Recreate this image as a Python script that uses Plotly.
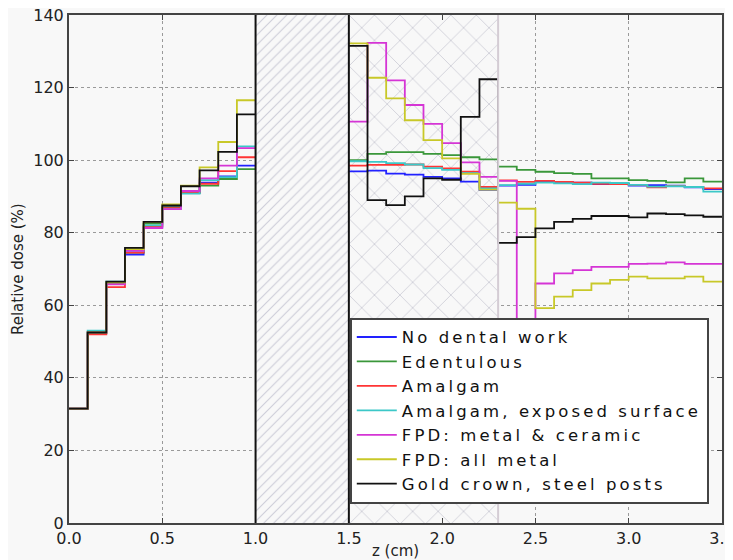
import plotly.graph_objects as go

# bin edges (cm): first block before the gap, second block after it
z_left = [0.0, 0.1, 0.2, 0.3, 0.4, 0.5, 0.6, 0.7, 0.8, 0.9, 1.0]
z_right = [1.5, 1.6, 1.7, 1.8, 1.9, 2.0, 2.1, 2.2, 2.3, 2.4, 2.5,
           2.6, 2.7, 2.8, 2.9, 3.0, 3.1, 3.2, 3.3, 3.4, 3.5]

# hatched regions (cm)
gap_region = [1.0, 1.5]
cross_region = [1.5, 2.3]

names = ["No dental work", "Edentulous", "Amalgam", "Amalgam, exposed surface",
         "FPD: metal & ceramic", "FPD: all metal", "Gold crown, steel posts"]

# relative dose per bin (%), left block
no_work_l = [31.5, 52.3, 66.0, 74.0, 81.5, 87.0, 91.0, 93.8, 95.5, 98.5]
edent_l = [31.5, 52.5, 66.0, 74.5, 82.5, 87.0, 91.0, 93.0, 94.8, 97.5]
amalgam_l = [31.5, 52.0, 65.0, 74.5, 81.8, 86.8, 91.2, 93.5, 97.0, 100.8]
amalg_exp_l = [31.5, 53.0, 66.5, 75.0, 82.0, 86.5, 90.8, 94.5, 95.3, 103.8]
fpd_mc_l = [31.5, 52.5, 65.8, 75.0, 81.3, 86.5, 91.5, 95.0, 98.5, 103.3]
fpd_metal_l = [31.5, 52.5, 66.3, 75.5, 83.0, 87.8, 93.0, 98.0, 105.0, 116.5]
gold_l = [31.5, 52.5, 66.5, 75.8, 83.0, 87.5, 92.8, 97.2, 102.3, 112.6]

# relative dose per bin (%), right block
no_work_r = [96.9, 97.1, 96.3, 96.0, 95.4, 95.0, 94.1, 91.8, 93.0, 93.2,
             94.2, 94.0, 93.8, 93.4, 93.5, 93.0, 93.1, 93.0, 92.5, 92.0]
edent_r = [100.0, 101.7, 102.2, 102.2, 101.7, 101.4, 100.8, 100.2, 98.2, 97.3,
           96.8, 96.4, 96.2, 95.0, 95.0, 94.5, 94.3, 93.9, 95.0, 94.1]
amalgam_r = [98.5, 98.7, 98.7, 98.8, 98.2, 97.7, 96.8, 92.6, 94.4, 94.0,
             94.3, 94.0, 93.8, 93.5, 93.4, 93.2, 92.5, 92.9, 92.6, 92.2]
amalg_exp_r = [99.7, 99.5, 99.2, 98.8, 97.8, 97.3, 96.4, 92.2, 93.1, 93.5,
               93.8, 93.6, 93.4, 93.8, 93.7, 93.2, 92.7, 92.8, 92.6, 91.3]
fpd_mc_r = [110.6, 132.3, 122.0, 115.2, 110.0, 104.7, 99.4, 95.4, 94.3, 30.0,
            66.0, 68.8, 69.7, 70.6, 70.6, 71.4, 71.5, 71.8, 71.4, 71.4]
fpd_metal_r = [132.2, 122.7, 117.0, 111.0, 105.5, 100.5, 96.2, 91.9, 88.3, 86.6,
               59.2, 62.4, 64.2, 66.0, 67.0, 67.9, 67.4, 67.4, 67.9, 66.5]
gold_r = [131.5, 89.0, 87.6, 90.0, 95.0, 94.6, 111.9, 122.3, 77.2, 78.8,
          81.2, 83.0, 83.8, 84.6, 84.6, 84.2, 85.3, 85.1, 84.8, 84.4]

left = [no_work_l, edent_l, amalgam_l, amalg_exp_l, fpd_mc_l, fpd_metal_l, gold_l]
right = [no_work_r, edent_r, amalgam_r, amalg_exp_r, fpd_mc_r, fpd_metal_r, gold_r]
colors = ["#2222ff", "#3a973a", "#ff3535", "#3cc8c8", "#d535d5", "#c8c828", "#111111"]

font = "DejaVu Sans"
fig = go.Figure()

# hatched backgrounds
fig.add_trace(go.Scatter(
    x=[gap_region[0], gap_region[1], gap_region[1], gap_region[0], gap_region[0]],
    y=[0, 0, 140, 140, 0], fill="toself", mode="lines", line=dict(width=0),
    fillcolor="rgba(0,0,0,0)", hoverinfo="skip", showlegend=False,
    fillpattern=dict(shape="/", size=7, solidity=0.16, fgcolor="#a2a2b8", bgcolor="#f8f8f8")))
fig.add_trace(go.Scatter(
    x=[cross_region[0], cross_region[1], cross_region[1], cross_region[0], cross_region[0]],
    y=[0, 0, 140, 140, 0], fill="toself", mode="lines", line=dict(width=0),
    fillcolor="rgba(0,0,0,0)", hoverinfo="skip", showlegend=False,
    fillpattern=dict(shape="x", size=18, solidity=0.08, fgcolor="#9494aa", bgcolor="#f8f8f8")))

for name, yl, yr, c in zip(names, left, right, colors):
    xs = z_left + [None] + z_right
    ys = yl + [yl[-1]] + [None] + yr + [yr[-1]]
    fig.add_trace(go.Scatter(x=xs, y=ys, mode="lines",
                             name='<span style="letter-spacing:3.1px">' + name + '</span>',
                             line=dict(color=c, width=1.8, shape="hv"),
                             connectgaps=False))

# region boundaries
for xv, col in [(gap_region[0], "#111111"), (gap_region[1], "#111111"), (cross_region[1], "#d4ccd4")]:
    fig.add_shape(type="line", x0=xv, x1=xv, y0=0, y1=140, xref="x", yref="y",
                  line=dict(color=col, width=2))

axis = dict(showline=True, linecolor="#444444", linewidth=2, mirror="ticks",
            ticks="inside", ticklen=5, tickcolor="#444444", automargin=False,
            ticklabeloverflow="allow",
            showgrid=True, gridcolor="#9a9a9a", griddash="dot", gridwidth=1,
            zeroline=False, tickfont=dict(family=font, size=16, color="#222222"))

fig.update_xaxes(axis, range=[0, 3.5], dtick=0.5, tickformat=".1f",
                 title=dict(text="z (cm)", font=dict(family=font, size=15, color="#222222"), standoff=1))
fig.update_yaxes(axis, range=[0, 140], dtick=20)

fig.add_annotation(text="Relative dose (%)", textangle=-90, xref="paper", yref="paper",
                   x=-0.078, y=0.5, xanchor="center", yanchor="middle", showarrow=False,
                   font=dict(family=font, size=15, color="#222222"))

# page body adds an 8px margin, so the figure is a little smaller than the window
fig.update_layout(
    width=725, height=552,
    margin=dict(l=61, r=11, t=7, b=37),
    paper_bgcolor="#f8f8f8", plot_bgcolor="#f8f8f8",
    font=dict(family=font, color="#222222"),
    legend=dict(x=0.43, y=0.404, xanchor="left", yanchor="top",
                bgcolor="#ffffff", bordercolor="#444444", borderwidth=2,
                font=dict(family=font, size=16.5, color="#111111"),
                tracegroupgap=0, itemwidth=40),
)

fig.write_html("out.html")
